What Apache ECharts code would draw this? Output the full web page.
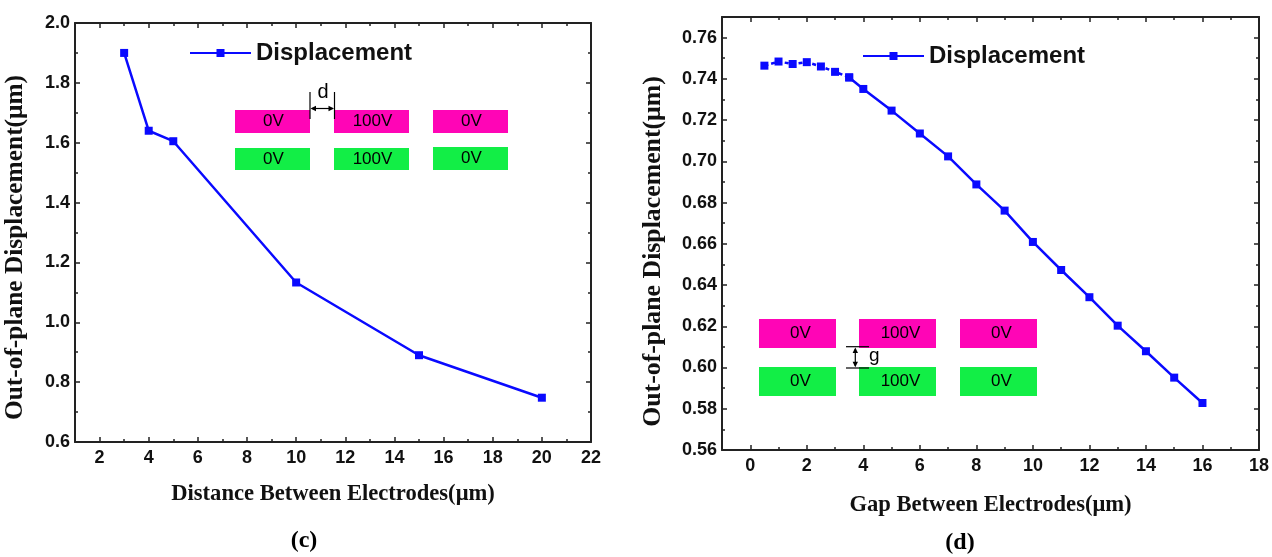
<!DOCTYPE html>
<html><head><meta charset="utf-8">
<script src="https://cdn.jsdelivr.net/npm/echarts@6/dist/echarts.min.js"></script>
<style>html,body{margin:0;padding:0;background:#fff}#c{width:1272px;height:557px}</style>
</head><body><div id="c"></div>
<script>
// ---- Panel (c): Distance between electrodes ----
const distanceX = [3, 4, 5, 10, 15, 20];
const distanceDisp = [1.900, 1.640, 1.605, 1.133, 0.890, 0.748];
const cXTicks = [2, 4, 6, 8, 10, 12, 14, 16, 18, 20, 22];
const cXMinor = [3, 5, 7, 9, 11, 13, 15, 17, 19, 21];
const cYTicks = [0.6, 0.8, 1.0, 1.2, 1.4, 1.6, 1.8, 2.0];
const cYMinor = [0.7, 0.9, 1.1, 1.3, 1.5, 1.7, 1.9];

// ---- Panel (d): Gap between electrodes ----
const gapX = [0.5, 1, 1.5, 2, 2.5, 3, 3.5, 4, 5, 6, 7, 8, 9, 10, 11, 12, 13, 14, 15, 16];
const gapDisp = [0.7464, 0.7484, 0.7472, 0.7481, 0.7460, 0.7434, 0.7407, 0.7351, 0.7246, 0.7135,
                 0.7024, 0.6888, 0.6761, 0.6609, 0.6473, 0.6341, 0.6203, 0.6079, 0.5951, 0.5828];
const gapDottedCount = 7; // first points joined by a dotted line
const dXTicks = [0, 2, 4, 6, 8, 10, 12, 14, 16, 18];
const dXMinor = [-1, 1, 3, 5, 7, 9, 11, 13, 15, 17];
const dYTicks = [0.56, 0.58, 0.60, 0.62, 0.64, 0.66, 0.68, 0.70, 0.72, 0.74, 0.76];
const dYMinor = [0.57, 0.59, 0.61, 0.63, 0.65, 0.67, 0.69, 0.71, 0.73, 0.75, 0.77];

const seriesName = 'Displacement';
const cXName = 'Distance Between Electrodes(μm)';
const dXName = 'Gap Between Electrodes(μm)';
const yName = 'Out-of-plane Displacement(μm)';

const AX = '#222';
const TICKFONT = {fontFamily: 'Liberation Sans', fontWeight: 'bold', fontSize: 18, color: '#111'};
const NAMEFONT = {fontFamily: 'Liberation Serif', fontWeight: 'bold', fontSize: 22, color: '#111'};

function axisSet(dim, gridIndex, min, max, major, minor, fmt, name, nameGap, namePad, nameSize) {
  const sides = dim === 'x' ? ['bottom', 'top'] : ['left', 'right'];
  const out = [];
  sides.forEach((pos, si) => {
    const main = si === 0;
    out.push({
      type: 'value', gridIndex, min, max, position: pos,
      name: main ? name : '', nameLocation: 'middle', nameGap,
      nameTextStyle: Object.assign({}, NAMEFONT, {fontSize: nameSize, padding: namePad}),
      axisLine: {show: true, onZero: false, lineStyle: {color: AX, width: 2}},
      axisTick: {show: true, inside: true, length: 5, customValues: major, lineStyle: {color: AX, width: 1.5}},
      axisLabel: main ? Object.assign({show: true, customValues: major, margin: dim === 'x' ? 7 : 5,
                    formatter: fmt}, TICKFONT) : {show: false},
      splitLine: {show: false}
    });
    out.push({
      type: 'value', gridIndex, min, max, position: pos,
      axisLine: {show: false, onZero: false},
      axisTick: {show: true, inside: true, length: 3, customValues: minor, lineStyle: {color: AX, width: 1.5}},
      axisLabel: {show: false},
      splitLine: {show: false}
    });
  });
  return out;
}

const pairs = (xs, ys) => xs.map((x, i) => [x, ys[i]]);
const gapPairs = pairs(gapX, gapDisp);

const chart = echarts.init(document.getElementById('c'), null, {renderer: 'canvas'});

const magenta = '#ff05b6';
const green = '#12ee46';
const insetFont = '17px "Liberation Sans"';

function box(x, y, w, h, fill, label, dx) {
  return [
    {type: 'rect', shape: {x, y, width: w, height: h}, style: {fill}, z: 50},
    {type: 'text', x: x + w / 2 + (dx || 0), y: y + h / 2, z: 51,
     style: {text: label, fill: '#000', font: insetFont, align: 'center', verticalAlign: 'middle',
             textAlign: 'center', textVerticalAlign: 'middle'}}
  ];
}

const graphics = [].concat(
  // inset (c)
  box(235, 110, 75, 23, magenta, '0V', 1),
  box(334, 110, 75, 23, magenta, '100V', 1),
  box(433, 110, 75, 23, magenta, '0V', 1),
  box(235, 148, 75, 22, green, '0V', 1),
  box(334, 148, 75, 22, green, '100V', 1),
  box(433, 147, 75, 23, green, '0V', 1),
  [
    {type: 'line', shape: {x1: 310, y1: 92, x2: 310, y2: 119}, style: {stroke: '#000', lineWidth: 1.2}, z: 52},
    {type: 'line', shape: {x1: 334.5, y1: 92, x2: 334.5, y2: 119}, style: {stroke: '#000', lineWidth: 1.2}, z: 52},
    {type: 'line', shape: {x1: 312, y1: 108.5, x2: 333, y2: 108.5}, style: {stroke: '#000', lineWidth: 1.2}, z: 52},
    {type: 'polygon', shape: {points: [[310.5, 108.5], [316, 105.8], [316, 111.2]]}, style: {fill: '#000'}, z: 52},
    {type: 'polygon', shape: {points: [[334, 108.5], [328.5, 105.8], [328.5, 111.2]]}, style: {fill: '#000'}, z: 52},
    {type: 'text', x: 323, y: 92, z: 52, style: {text: 'd', fill: '#000', font: '20px "Liberation Sans"',
      align: 'center', verticalAlign: 'middle', textAlign: 'center', textVerticalAlign: 'middle'}}
  ],
  // inset (d)
  box(759, 319, 77, 29, magenta, '0V', 3),
  box(859, 319, 77, 29, magenta, '100V', 3),
  box(960, 319, 77, 29, magenta, '0V', 3),
  box(759, 367, 77, 29, green, '0V', 3),
  box(859, 367, 77, 29, green, '100V', 3),
  box(960, 367, 77, 29, green, '0V', 3),
  [
    {type: 'line', shape: {x1: 846, y1: 346.7, x2: 869, y2: 346.7}, style: {stroke: '#000', lineWidth: 1.2}, z: 52},
    {type: 'line', shape: {x1: 846, y1: 368, x2: 869, y2: 368}, style: {stroke: '#000', lineWidth: 1.2}, z: 52},
    {type: 'line', shape: {x1: 855.3, y1: 349, x2: 855.3, y2: 366}, style: {stroke: '#000', lineWidth: 1.2}, z: 52},
    {type: 'polygon', shape: {points: [[855.3, 347.5], [852.6, 353], [858, 353]]}, style: {fill: '#000'}, z: 52},
    {type: 'polygon', shape: {points: [[855.3, 367.2], [852.6, 361.7], [858, 361.7]]}, style: {fill: '#000'}, z: 52},
    {type: 'text', x: 869, y: 356, z: 52, style: {text: 'g', fill: '#000', font: '19px "Liberation Sans"',
      align: 'left', verticalAlign: 'middle', textAlign: 'left', textVerticalAlign: 'middle'}}
  ],
  // captions
  [
    {type: 'text', x: 304, y: 541, style: {text: '(c)', fill: '#000', font: 'bold 24px "Liberation Serif"',
      align: 'center', verticalAlign: 'middle', textAlign: 'center', textVerticalAlign: 'middle'}},
    {type: 'text', x: 960, y: 543, style: {text: '(d)', fill: '#000', font: 'bold 24px "Liberation Serif"',
      align: 'center', verticalAlign: 'middle', textAlign: 'center', textVerticalAlign: 'middle'}}
  ]
);

const f1 = v => (Math.round(v * 10) / 10).toFixed(1);
const f0 = v => String(Math.round(v));
const f2 = v => (Math.round(v * 100) / 100).toFixed(2);

const legendCommon = {
  data: [seriesName], orient: 'horizontal', itemWidth: 61, itemHeight: 10, selectedMode: false, padding: 0,
  textStyle: {fontFamily: 'Liberation Sans', fontWeight: 'bold', fontSize: 24, color: '#111'}
};

chart.setOption({
  animation: false,
  backgroundColor: '#fff',
  grid: [
    {left: 75, right: 1272 - 591, top: 23, bottom: 557 - 442, containLabel: false},
    {left: 722, right: 1272 - 1260, top: 17, bottom: 557 - 450, containLabel: false}
  ],
  legend: [
    Object.assign({left: 189, top: 41}, legendCommon),
    Object.assign({left: 862, top: 44}, legendCommon)
  ],
  xAxis: [].concat(
    axisSet('x', 0, 1, 22, cXTicks, cXMinor, f0, cXName, 41, [0, 0, 0, 0], 22.6),
    axisSet('x', 1, -1, 18, dXTicks, dXMinor, f0, dXName, 44, [0, 0, 0, 0], 22.6)
  ),
  yAxis: [].concat(
    axisSet('y', 0, 0.6, 2.0, cYTicks, cYMinor, f1, yName, 47, [0, 30, 0, 0], 25.4),
    axisSet('y', 1, 0.56, 0.77, dYTicks, dYMinor, f2, yName, 56, [0, 36, 0, 0], 25.8)
  ),
  series: [
    {
      name: seriesName, type: 'line', xAxisIndex: 0, yAxisIndex: 0,
      data: pairs(distanceX, distanceDisp),
      symbol: 'rect', symbolSize: 8, showSymbol: true,
      lineStyle: {color: '#0a0aff', width: 2.5}, itemStyle: {color: '#0a0aff'}
    },
    {
      name: seriesName, type: 'line', xAxisIndex: 4, yAxisIndex: 4,
      data: gapPairs.slice(gapDottedCount - 1),
      symbol: 'rect', symbolSize: 8, showSymbol: true,
      lineStyle: {color: '#0a0aff', width: 2.5}, itemStyle: {color: '#0a0aff'}
    },
    {
      name: seriesName + ' (small gap)', type: 'line', xAxisIndex: 4, yAxisIndex: 4,
      data: gapPairs.slice(0, gapDottedCount),
      symbol: 'rect', symbolSize: 8, showSymbol: true,
      lineStyle: {color: '#0a0aff', width: 2.5, type: [4, 3]}, itemStyle: {color: '#0a0aff'}
    }
  ],
  graphic: {elements: graphics}
});
</script>
</body></html>
